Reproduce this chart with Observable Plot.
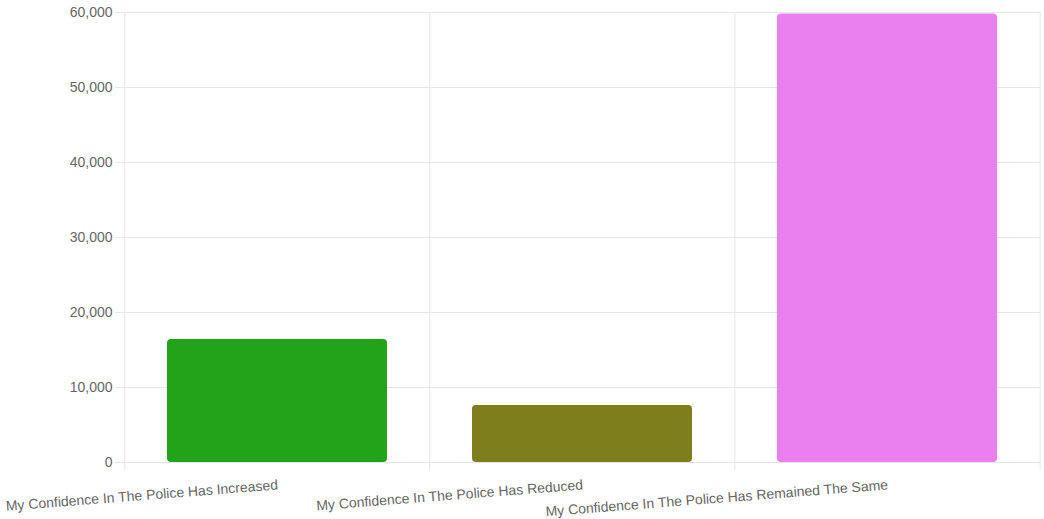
<!DOCTYPE html>
<html>
<head>
<meta charset="utf-8">
<script src="https://cdn.jsdelivr.net/npm/d3@7"></script>
<script src="https://cdn.jsdelivr.net/npm/@observablehq/plot@0.6"></script>
<style>
  html, body { margin: 0; padding: 0; background: #fff; }
  #chart svg { display: block; font-family: "Liberation Sans", Arial, sans-serif; }
</style>
</head>
<body>
<div id="chart"></div>
<script>
// Survey responses on confidence in the police
const categories = [
  "My Confidence In The Police Has Increased",
  "My Confidence In The Police Has Reduced",
  "My Confidence In The Police Has Remained The Same"
];
const counts = [16400, 7600, 59800];
const colors = ["#23a31a", "#7e7e1a", "#ea80f0"];
const yTicks = [0, 10000, 20000, 30000, 40000, 50000, 60000];

const data = categories.map((c, i) => ({ category: c, count: counts[i], color: colors[i] }));

const W = 1044, H = 519;
const margin = { top: 12, right: 4, bottom: 57, left: 124 };
const step = (W - margin.left - margin.right) / categories.length;
const gridColor = "#e6e6e6";

const chart = Plot.plot({
  width: W,
  height: H,
  marginTop: margin.top,
  marginRight: margin.right,
  marginBottom: margin.bottom,
  marginLeft: margin.left,
  style: { fontFamily: "Liberation Sans, Arial, sans-serif", fontSize: "14px", color: "#666", background: "#fff" },
  x: { domain: categories, paddingInner: 0.28, paddingOuter: 0.14, axis: null },
  y: { domain: [0, 60000], axis: null },
  color: { type: "identity" },
  marks: [
    // horizontal grid lines with short tick stubs on the left
    Plot.ruleY(yTicks, { stroke: gridColor, strokeWidth: 1, insetLeft: -9 }),
    // vertical grid lines on category boundaries
    Plot.ruleX(categories, { x: d => d, dx: -step / 2, stroke: gridColor, insetBottom: -8 }),
    Plot.ruleX(categories.slice(-1), { x: d => d, dx: step / 2, stroke: gridColor, insetBottom: -8 }),
    Plot.axisY({ ticks: yTicks, tickFormat: d3.format(","), tickSize: 0, tickPadding: 12, fill: "#666", fontSize: 14, label: null }),
    Plot.barY(data, { x: "category", y: "count", fill: "color", rx: 4 }),
    Plot.text(data, {
      x: "category",
      frameAnchor: "bottom",
      text: "category",
      textAnchor: "end",
      lineAnchor: "top",
      rotate: -4.5,
      dy: 17,
      fill: "#666",
      fontSize: 14
    })
  ]
});

document.getElementById("chart").appendChild(chart);
</script>
</body>
</html>
